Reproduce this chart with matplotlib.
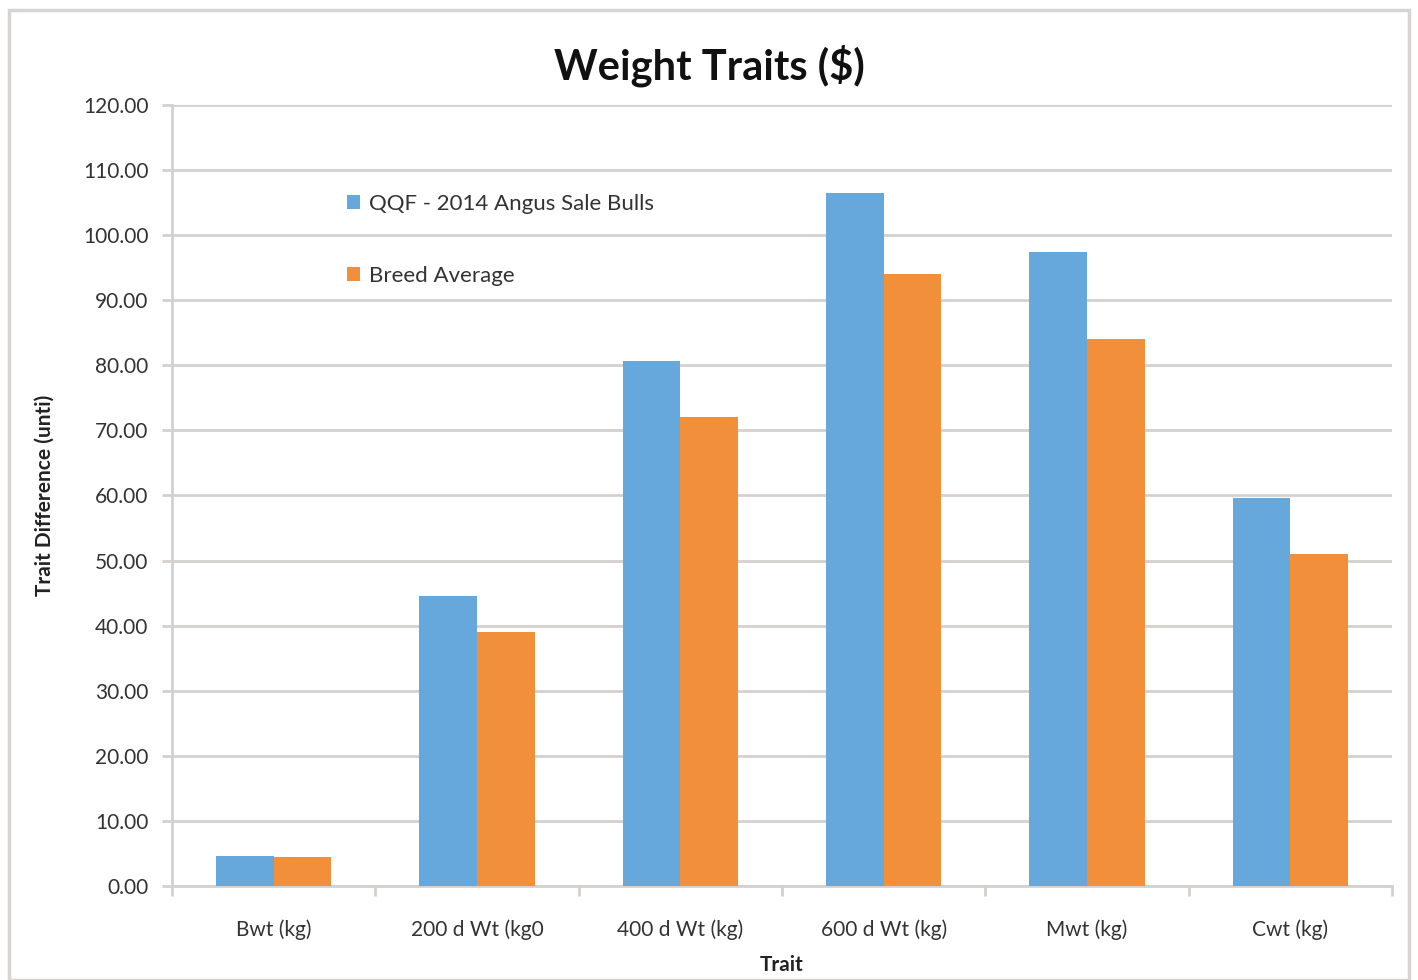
import numpy as np
import matplotlib.pyplot as plt
from matplotlib.patches import Rectangle

plt.rcParams['font.family'] = ['Lato', 'DejaVu Sans']

traits = ['Bwt (kg)', '200 d Wt (kg0', '400 d Wt (kg)', '600 d Wt (kg)', 'Mwt (kg)', 'Cwt (kg)']
qqf_bulls = [4.6, 44.6, 80.7, 106.5, 97.4, 59.6]
breed_avg = [4.5, 39.0, 72.1, 94.0, 84.0, 51.0]
series_names = ['QQF - 2014 Angus Sale Bulls', 'Breed Average']

blue = '#66a8dc'
orange = '#f28f3b'
grid_col = '#d4d0ce'

fig = plt.figure(figsize=(14.18, 9.8), dpi=100)
fig.patches.append(Rectangle((0.006, 0.0), 0.988, 0.99, transform=fig.transFigure,
                             fill=False, edgecolor='#d8d4d2', linewidth=2.5))
ax = fig.add_axes([0.1213, 0.0959, 0.8604, 0.797])

x = np.arange(len(traits))
w = 0.283
ax.bar(x - w / 2, qqf_bulls, w, color=blue, label=series_names[0], zorder=3)
ax.bar(x + w / 2, breed_avg, w, color=orange, label=series_names[1], zorder=3)

ax.set_xlim(-0.5, len(traits) - 0.5)
ax.set_ylim(0, 120)
ax.set_yticks(np.arange(0, 121, 10))
ax.set_yticklabels([f'{v:.2f}' for v in np.arange(0, 121, 10)], fontsize=15, color='#333333')
ax.yaxis.grid(True, color=grid_col, linewidth=2, zorder=0)
ax.set_axisbelow(True)

ax.set_xticks(x)
ax.set_xticklabels(traits, fontsize=15, color='#333333')
ax.set_xticks(np.arange(-0.5, len(traits)), minor=True)
ax.tick_params(axis='x', which='major', length=0, pad=24)
ax.tick_params(axis='x', which='minor', length=7, width=2, color=grid_col, direction='out')
ax.tick_params(axis='y', length=7, width=2, color=grid_col, pad=10)

for s in ['top', 'right']:
    ax.spines[s].set_visible(False)
for s in ['left', 'bottom']:
    ax.spines[s].set_color(grid_col)
    ax.spines[s].set_linewidth(2)

fig.suptitle('Weight Traits ($)', x=0.5, y=0.955, fontsize=30, fontweight='bold', color='#111111')
ax.set_ylabel('Trait Difference (unti)', fontsize=15, fontweight='bold', labelpad=20, color='#222222')
ax.set_xlabel('Trait', fontsize=15, fontweight='bold', labelpad=11, color='#222222')

leg = ax.legend(loc='upper left', bbox_to_anchor=(0.127, 0.912), frameon=False, fontsize=16,
                handlelength=0.6, handleheight=0.6, handletextpad=0.4, labelspacing=2.35,
                labelcolor='#333333')

fig.savefig('out.png', dpi=100)
